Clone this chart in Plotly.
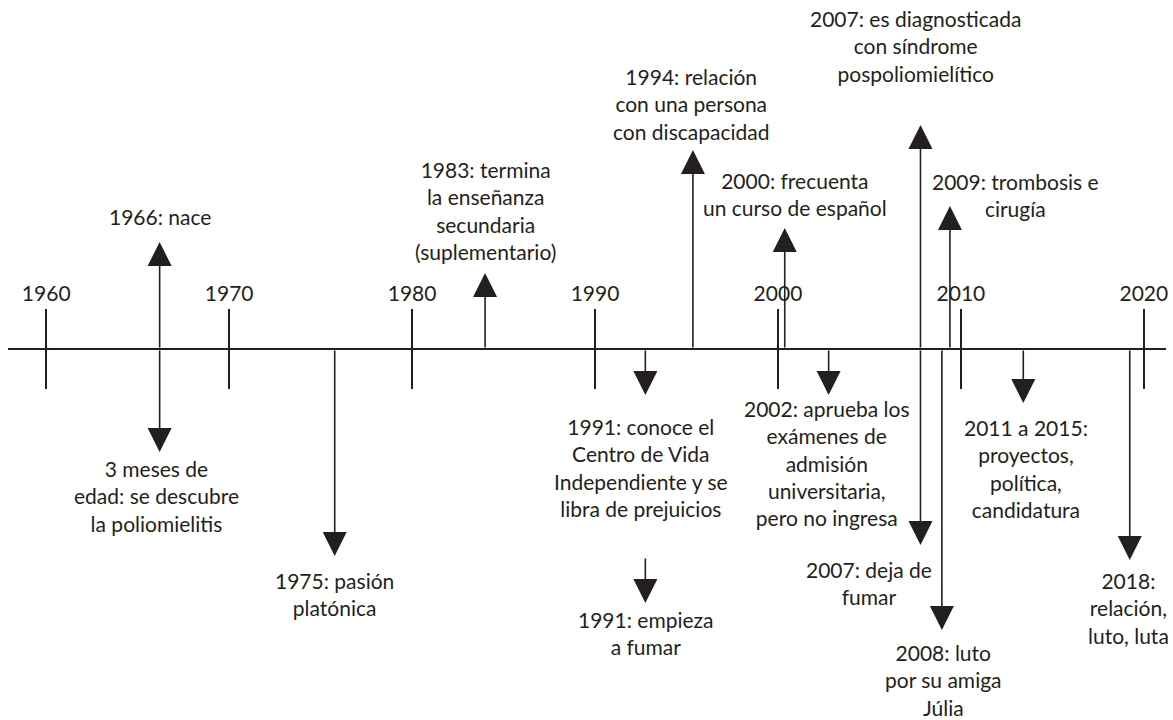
import plotly.graph_objects as go

# ---------------- data ----------------
decades = [1960, 1970, 1980, 1990, 2000, 2010, 2020]
decade_labels = ["1960", "1970", "1980", "1990", "2000", "2010", "2020"]

event_labels = [
    "1966: nace",
    "3 meses de<br>edad: se descubre<br>la poliomielitis",
    "1975: pasión<br>platónica",
    "1983: termina<br>la enseñanza<br>secundaria<br>(suplementario)",
    "1991: conoce el<br>Centro de Vida<br>Independiente y se<br>libra de prejuicios",
    "1991: empieza<br>a fumar",
    "1994: relación<br>con una persona<br>con discapacidad",
    "2000: frecuenta<br>un curso de español",
    "2002: aprueba los<br>exámenes de<br>admisión<br>universitaria,<br>pero no ingresa",
    "2007: es diagnosticada<br>con síndrome<br>pospoliomielítico",
    "2007: deja de<br>fumar",
    "2008: luto<br>por su amiga<br>Júlia",
    "2009: trombosis e<br>cirugía",
    "2011 a 2015:<br>proyectos,<br>política,<br>candidatura",
    "2018:<br>relación,<br>luto, luta",
]
# position of each event's arrow on the time axis (years)
event_time = [1966.2, 1966.2, 1975.77, 1983.99, 1992.75, 1992.75, 1995.35,
              2000.37, 2002.77, 2007.79, 2007.79, 2008.96, 2009.40, 2013.41, 2019.23]
event_dir = ["up", "down", "down", "up", "down", "down", "up",
             "up", "down", "up", "down", "down", "up", "down", "down"]

# ---------------- layout (pixel-like vertical coordinates, top = 0) ----------------
W, H = 1173, 720
AXIS_Y = 349
arrow_start = [AXIS_Y] * 15
arrow_start[5] = 557
arrow_tip = [242, 452, 556, 273, 395, 603, 150, 228, 395, 125, 545, 630, 206, 403, 560]
label_x = [1966.2, 1966.04, 1975.75, 1983.99, 1992.51, 1992.78, 1995.24, 2000.91,
           2002.66, 2007.52, 2004.95, 2009.04, 2012.97, 2013.57, 2019.14]
label_y = [216, 496, 594, 210, 467, 633, 104, 194, 463, 46, 583, 680, 195, 468, 608]

INK = "#231f20"
FONT = dict(family="Lato, 'Open Sans', sans-serif", size=21, color=INK)

px_per_year = 18.325
x0_px, x1_px = 8, 1168
year_at = lambda px: 1960 + (px - 46.3) / px_per_year
xrange = [year_at(x0_px), year_at(x1_px)]

fig = go.Figure()
# invisible traces to establish the axes
fig.add_trace(go.Scatter(x=xrange, y=[AXIS_Y, AXIS_Y], mode="lines",
                         line=dict(color="rgba(0,0,0,0)"), hoverinfo="skip",
                         showlegend=False))
fig.add_trace(go.Scatter(x=xrange, y=[AXIS_Y, AXIS_Y], xaxis="x2", mode="lines",
                         line=dict(color="rgba(0,0,0,0)"), hoverinfo="skip",
                         showlegend=False))

annotations = []
for i in range(len(event_labels)):
    annotations.append(dict(
        x=event_time[i], y=arrow_tip[i], ax=event_time[i], ay=arrow_start[i],
        xref="x", yref="y", axref="x", ayref="y", text="", showarrow=True,
        arrowhead=2, arrowsize=3.0, arrowwidth=1.6, arrowcolor=INK,
    ))
    annotations.append(dict(
        x=label_x[i], y=label_y[i], xref="x", yref="y", text=event_labels[i],
        showarrow=False, xanchor="center", yanchor="middle", align="center",
        font=FONT,
    ))

axis_pos = 1 - AXIS_Y / H
common_axis = dict(range=xrange, domain=[x0_px / W, x1_px / W], anchor="free",
                   position=axis_pos, showgrid=False, zeroline=False,
                   showline=True, linecolor=INK, linewidth=1.6,
                   tickmode="array", tickvals=decades, ticktext=decade_labels,
                   tickcolor=INK, tickwidth=1.6, ticklen=39, ticks="outside")

fig.update_layout(
    width=W, height=H,
    margin=dict(l=0, r=0, t=0, b=0),
    paper_bgcolor="white", plot_bgcolor="white",
    showlegend=False,
    xaxis=dict(**common_axis, side="bottom", showticklabels=False),
    xaxis2=dict(**common_axis, side="top", overlaying="x", showticklabels=True,
                tickfont=FONT),
    yaxis=dict(range=[H, 0], domain=[0, 1], visible=False, fixedrange=True),
    annotations=annotations,
)

fig.write_html(
    "out.html",
    config={"displayModeBar": False},
    post_script="document.body.style.margin='0';document.body.style.overflow='hidden';",
)
